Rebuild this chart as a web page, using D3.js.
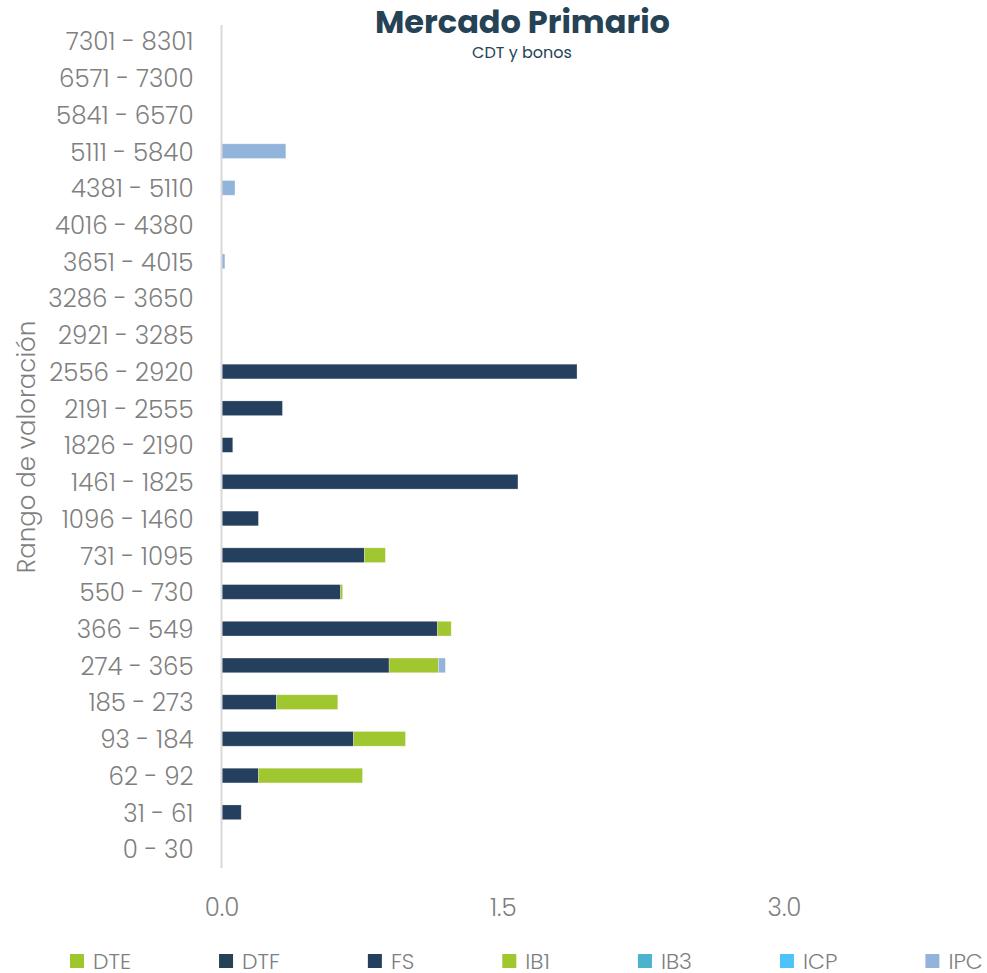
<!DOCTYPE html>
<html>
<head>
<meta charset="utf-8">
<script src="https://cdn.jsdelivr.net/npm/d3@7"></script>
<style>
  html, body { margin: 0; padding: 0; background: #fff; }
  svg { display: block; }
</style>
</head>
<body>
<svg id="chart" width="987" height="973"></svg>
<script>
// Categories (bottom to top, as in the source)
const categories = [
  "0 - 30", "31 - 61", "62 - 92", "93 - 184", "185 - 273", "274 - 365",
  "366 - 549", "550 - 730", "731 - 1095", "1096 - 1460", "1461 - 1825",
  "1826 - 2190", "2191 - 2555", "2556 - 2920", "2921 - 3285", "3286 - 3650",
  "3651 - 4015", "4016 - 4380", "4381 - 5110", "5111 - 5840", "5841 - 6570",
  "6571 - 7300", "7301 - 8301"
];
const seriesNames = ["DTE", "DTF", "FS", "IB1", "IB3", "ICP", "IPC"];
const DTE = [0,0,0,0,0,0,0,0,0,0,0,0,0,0,0,0,0,0,0,0,0,0,0];
const DTF = [0,0,0,0,0,0,0,0,0,0,0,0,0,0,0,0,0,0,0,0,0,0,0];
const FS  = [0,0.105,0.197,0.704,0.293,0.894,1.152,0.635,0.762,0.197,1.581,0.060,0.325,1.896,0,0,0,0,0,0,0,0,0];
const IB1 = [0,0,0.555,0.277,0.327,0.263,0.073,0.011,0.112,0,0,0,0,0,0,0,0,0,0,0,0,0,0];
const IB3 = [0,0,0,0,0,0,0,0,0,0,0,0,0,0,0,0,0,0,0,0,0,0,0];
const ICP = [0,0,0,0,0,0,0,0,0,0,0,0,0,0,0,0,0,0,0,0,0,0,0];
const IPC = [0,0,0,0,0,0.037,0,0,0,0,0,0,0,0,0,0,0.018,0,0.072,0.343,0,0,0];
const xTicks = [0, 1.5, 3.0];
const colors = ["#9DC62F", "#264356", "#253F5F", "#A0C630", "#4BB3CE", "#4EC3F7", "#93B4DA"];

const seriesValues = [DTE, DTF, FS, IB1, IB3, ICP, IPC];
const table = categories.map((c, i) => {
  const row = { cat: c };
  seriesNames.forEach((s, k) => row[s] = seriesValues[k][i]);
  return row;
});

const svg = d3.select("#chart");
const FONT = "Poppins, 'Noto Sans', 'Open Sans', sans-serif";
const GRAY = "#7F7F7F";

const x = d3.scaleLinear().domain([0, 4]).range([221.5, 971.5]);
const y = d3.scaleBand()
  .domain(categories.slice().reverse())
  .range([22.6, 867.4])
  .paddingInner(0.6)
  .paddingOuter(0.3);

const stacked = d3.stack().keys(seriesNames)(table);
const color = d3.scaleOrdinal().domain(seriesNames).range(colors);

// Bars
svg.append("g").selectAll("g")
  .data(stacked)
  .join("g")
  .attr("fill", d => color(d.key))
  .selectAll("rect")
  .data(d => d.filter(p => p[1] - p[0] > 0))
  .join("rect")
  .attr("x", d => x(d[0]))
  .attr("y", d => y(d.data.cat))
  .attr("width", d => x(d[1]) - x(d[0]))
  .attr("height", y.bandwidth())
  .attr("stroke", "#ffffff")
  .attr("stroke-opacity", 0.35)
  .attr("stroke-width", 0.75);

// Vertical axis line
svg.append("line")
  .attr("x1", x(0)).attr("x2", x(0))
  .attr("y1", 25).attr("y2", 868)
  .attr("stroke", "#D9D9D9").attr("stroke-width", 2);

// Y axis labels
const yAxis = d3.axisLeft(y).tickSize(0).tickPadding(28);
const gy = svg.append("g").attr("transform", `translate(${x(0)},1.5)`).call(yAxis);
gy.select(".domain").remove();
gy.selectAll("text")
  .attr("font-family", FONT)
  .attr("font-size", 24.5)
  .attr("font-weight", 300)
  .attr("fill", GRAY);

// X axis labels
const xAxis = d3.axisBottom(x).tickValues(xTicks).tickFormat(d3.format(".1f")).tickSize(0).tickPadding(0);
const gx = svg.append("g").attr("transform", `translate(0,899)`).call(xAxis);
gx.select(".domain").remove();
gx.selectAll("text")
  .attr("font-family", FONT)
  .attr("font-size", 24.5)
  .attr("font-weight", 300)
  .attr("fill", GRAY);

// Y axis title
svg.append("text")
  .attr("transform", "translate(35,447) rotate(-90)")
  .attr("text-anchor", "middle")
  .attr("font-family", FONT)
  .attr("font-size", 24.5)
  .attr("font-weight", 300)
  .attr("fill", GRAY)
  .text("Rango de valoración");

// Title
svg.append("text")
  .attr("x", 522.5).attr("y", 33)
  .attr("text-anchor", "middle")
  .attr("font-family", FONT)
  .attr("font-size", 32)
  .attr("font-weight", 700)
  .attr("fill", "#264356")
  .text("Mercado Primario");
svg.append("text")
  .attr("x", 522).attr("y", 58)
  .attr("text-anchor", "middle")
  .attr("font-family", FONT)
  .attr("font-size", 16)
  .attr("fill", "#264356")
  .text("CDT y bonos");

// Legend: items laid out by their text widths
const legend = svg.append("g").attr("transform", "translate(70,961)");
const item = legend.selectAll("g")
  .data(seriesNames)
  .join("g");
item.append("rect")
  .attr("x", 0).attr("y", -7)
  .attr("width", 14).attr("height", 14)
  .attr("fill", d => color(d));
item.append("text")
  .attr("x", 23).attr("y", 0)
  .attr("dy", "0.35em")
  .attr("font-family", FONT)
  .attr("font-size", 22)
  .attr("font-weight", 300)
  .attr("fill", GRAY)
  .text(d => d);
let cursor = 0;
item.each(function() {
  const g = d3.select(this);
  g.attr("transform", `translate(${cursor},0)`);
  const w = g.select("text").node().getComputedTextLength();
  cursor += w + 111;
});
</script>
</body>
</html>
